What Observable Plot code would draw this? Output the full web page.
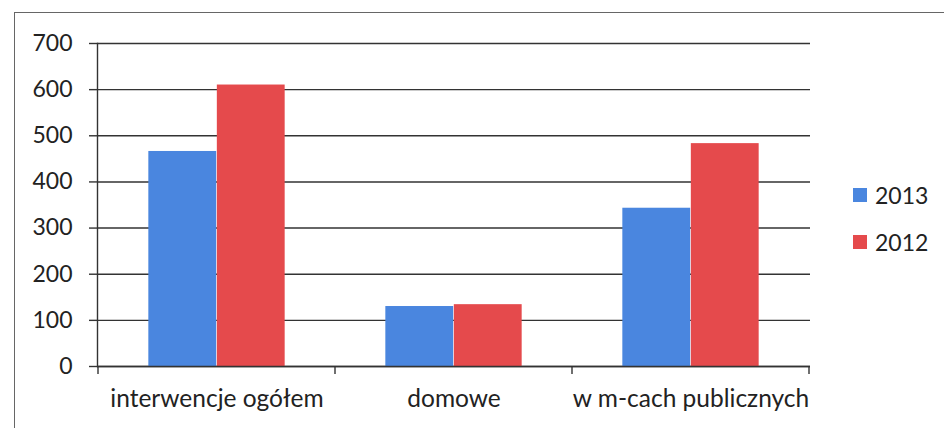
<!DOCTYPE html>
<html>
<head>
<meta charset="utf-8">
<script src="https://cdn.jsdelivr.net/npm/d3@7"></script>
<script src="https://cdn.jsdelivr.net/npm/@observablehq/plot@0.6"></script>
<style>
  html, body { margin: 0; padding: 0; background: #fff; }
  #wrap { position: relative; width: 944px; height: 428px; overflow: hidden; font-family: Lato, "Open Sans", sans-serif; }
  #border { position: absolute; left: 14px; top: 12px; width: 960px; height: 460px; border: 1.5px solid #666; box-sizing: border-box; }
  #chart { position: absolute; left: 0; top: 0; }
  #legend { position: absolute; left: 853px; top: 180px; color: #222; font-size: 23px; }
  #legend .item { display: flex; align-items: center; height: 30px; margin-bottom: 17px; }
  #legend .sw { width: 14px; height: 14px; margin-right: 8px; }
</style>
</head>
<body>
<div id="wrap">
  <div id="border"></div>
  <div id="chart"></div>
  <div id="legend"></div>
</div>
<script>
const categories = ["interwencje ogółem", "domowe", "w m-cach publicznych"];
const series = ["2013", "2012"];
const values2013 = [466, 130, 343];
const values2012 = [610, 134, 483];
const yTicks = [0, 100, 200, 300, 400, 500, 600, 700];
const colors = ["#4a86df", "#e54a4c"];

const rows2013 = categories.map((c, i) => ({category: c, value: values2013[i]}));
const rows2012 = categories.map((c, i) => ({category: c, value: values2012[i]}));

const plotLeft = 97, plotRight = 810, plotTop = 43, plotBottom = 366;
const bandW = (plotRight - plotLeft) / categories.length;
const barW = 68.5;
const outer = (bandW - 2 * barW) / 2;

const plot = Plot.plot({
  width: 944,
  height: 428,
  marginLeft: plotLeft,
  marginRight: 944 - plotRight,
  marginTop: plotTop,
  marginBottom: 428 - plotBottom,
  style: {fontFamily: "Lato, 'Open Sans', sans-serif", color: "#222", background: "transparent"},
  x: {domain: categories, padding: 0, label: null},
  y: {domain: [0, 700], label: null},
  marks: [
    Plot.gridY(yTicks, {stroke: "#333", strokeOpacity: 1, strokeWidth: 1.4}),
    Plot.barY(rows2013, {x: "category", y: "value", fill: colors[0], insetLeft: outer, insetRight: outer + barW}),
    Plot.barY(rows2012, {x: "category", y: "value", fill: colors[1], insetLeft: outer + barW, insetRight: outer}),
    Plot.ruleY([0], {stroke: "#333", strokeWidth: 1.4}),
    Plot.axisY({ticks: yTicks, tickSize: 8, tickPadding: 17, fontSize: 23, stroke: "#333", strokeWidth: 1.4, label: null}),
    Plot.axisX({tickSize: 0, tickPadding: 23, fontSize: 24.5, label: null}),
    Plot.frame({anchor: "left", stroke: "#333", strokeWidth: 1.4})
  ]
});
document.getElementById("chart").appendChild(plot);

// boundary tick marks between category groups, positioned from the x scale
const xs = plot.scale("x");
const bounds = categories.map(c => xs.apply(c));
bounds.push(bounds[bounds.length - 1] + xs.bandwidth);
const ys = plot.scale("y");
const yZero = ys.apply(0);
d3.select(plot).append("g")
  .selectAll("line").data(bounds).join("line")
  .attr("x1", d => d).attr("x2", d => d)
  .attr("y1", yZero).attr("y2", yZero + 8)
  .attr("stroke", "#333").attr("stroke-width", 1.4);

const legend = d3.select("#legend");
series.forEach((s, i) => {
  const item = legend.append("div").attr("class", "item");
  item.append("div").attr("class", "sw").style("background", colors[i]);
  item.append("span").text(s);
});
</script>
</body>
</html>
